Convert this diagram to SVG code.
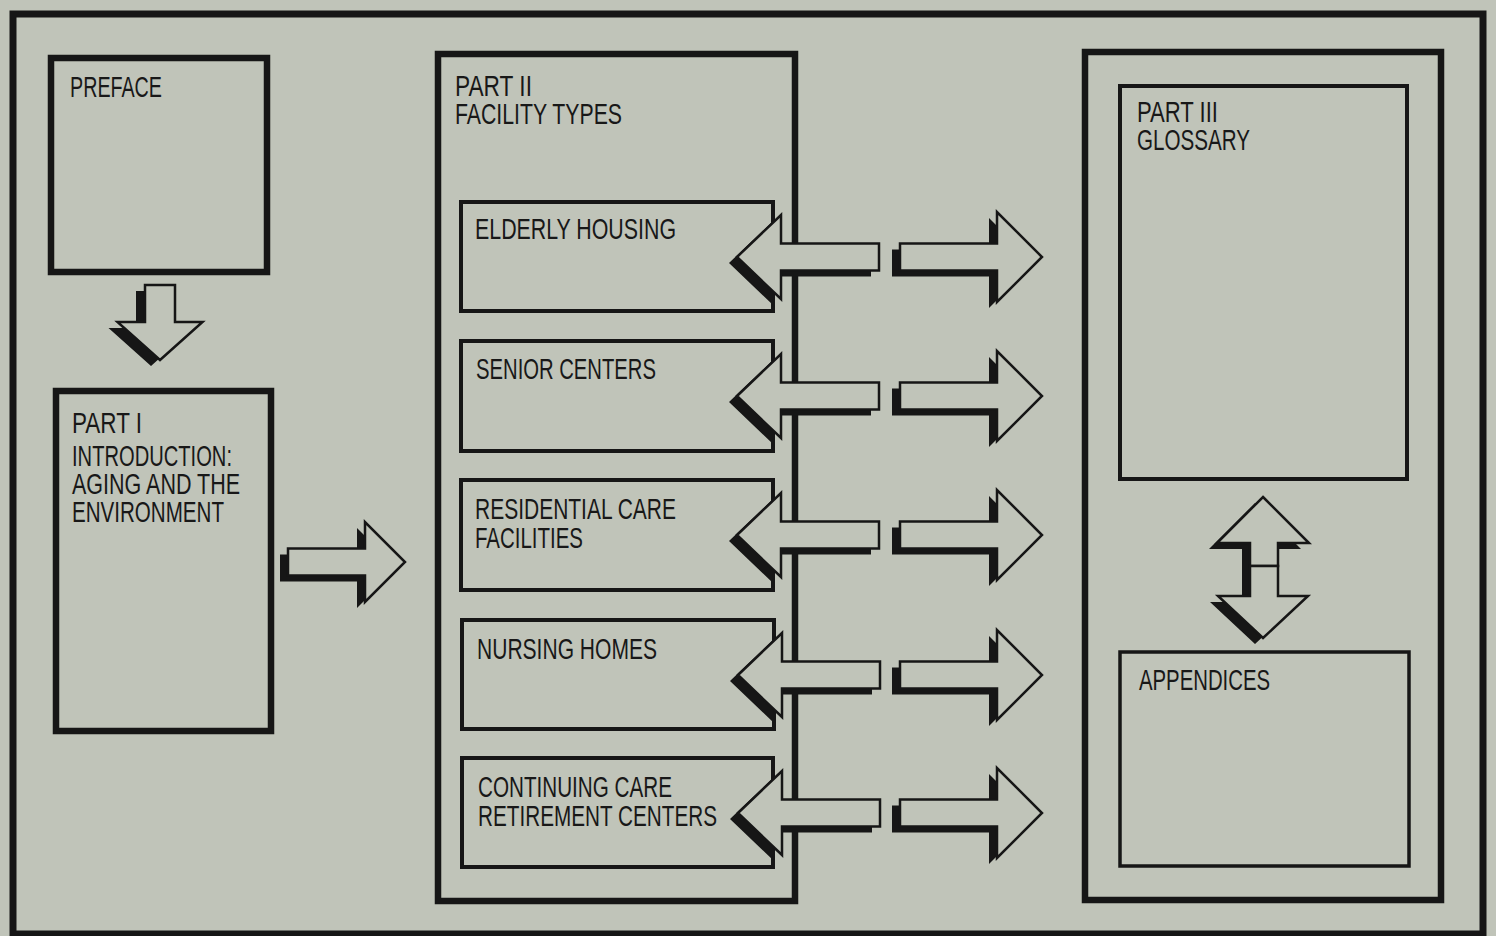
<svg xmlns="http://www.w3.org/2000/svg" xmlns:xlink="http://www.w3.org/1999/xlink" width="1496" height="936" viewBox="0 0 1496 936">
<style>
.bg{fill:#c0c4b9}
.frame{fill:none;stroke:#161616;stroke-width:7}
.box{fill:none;stroke:#161616;stroke-width:6.5}
.inner{fill:none;stroke:#161616;stroke-width:4}
.t{font-family:"Liberation Sans",Arial,sans-serif;font-size:30px;fill:#181818}
.arr{fill:#c0c4b9;stroke:#161616;stroke-width:2.5;stroke-linejoin:miter}
.sh{fill:#161616}
</style>
<defs>
<polygon id="lshape" points="0,0 44,-42 44,-13.5 142,-13.5 142,13.5 44,13.5 44,42"/>
<polygon id="rshape" points="0,-13.5 97,-13.5 97,-45 142,0 97,45 97,13.5 0,13.5"/>
<g id="larrow">
<use xlink:href="#lshape" class="sh" transform="translate(-8,6)"/>
<use xlink:href="#lshape" class="arr"/>
</g>
<g id="rarrow">
<use xlink:href="#rshape" class="sh" transform="translate(-8,6)"/>
<use xlink:href="#rshape" class="arr"/>
</g>
</defs>
<rect class="bg" x="0" y="0" width="1496" height="936"/>
<rect class="frame" x="13" y="14" width="1470" height="920"/>

<g id="preface">
<rect class="box" x="51" y="58" width="216" height="214"/>
<text class="t" x="70" y="97" textLength="92" lengthAdjust="spacingAndGlyphs">PREFACE</text>
</g>

<g id="part1">
<rect class="box" x="56" y="391" width="215" height="340"/>
<text class="t" x="72" y="433" textLength="70" lengthAdjust="spacingAndGlyphs">PART I</text>
<text class="t" x="72" y="466" textLength="160" lengthAdjust="spacingAndGlyphs">INTRODUCTION:</text>
<text class="t" x="72" y="494" textLength="168" lengthAdjust="spacingAndGlyphs">AGING AND THE</text>
<text class="t" x="72" y="522" textLength="152" lengthAdjust="spacingAndGlyphs">ENVIRONMENT</text>
</g>

<g id="part2">
<rect class="box" x="438" y="54" width="357" height="847"/>
<text class="t" x="455" y="96" textLength="77" lengthAdjust="spacingAndGlyphs">PART II</text>
<text class="t" x="455" y="124" textLength="167" lengthAdjust="spacingAndGlyphs">FACILITY TYPES</text>
</g>

<g id="elderly">
<rect class="inner" x="461" y="202" width="312" height="109"/>
<text class="t" x="475" y="239" textLength="201" lengthAdjust="spacingAndGlyphs">ELDERLY HOUSING</text>
</g>
<g id="senior">
<rect class="inner" x="461" y="341" width="312" height="110"/>
<text class="t" x="476" y="379" textLength="180" lengthAdjust="spacingAndGlyphs">SENIOR CENTERS</text>
</g>
<g id="residential">
<rect class="inner" x="461" y="480" width="312" height="110"/>
<text class="t" x="475" y="519" textLength="201" lengthAdjust="spacingAndGlyphs">RESIDENTIAL CARE</text>
<text class="t" x="475" y="548" textLength="108" lengthAdjust="spacingAndGlyphs">FACILITIES</text>
</g>
<g id="nursing">
<rect class="inner" x="462" y="620" width="312" height="109"/>
<text class="t" x="477" y="659" textLength="180" lengthAdjust="spacingAndGlyphs">NURSING HOMES</text>
</g>
<g id="ccrc">
<rect class="inner" x="462" y="758" width="311" height="109"/>
<text class="t" x="478" y="797" textLength="194" lengthAdjust="spacingAndGlyphs">CONTINUING CARE</text>
<text class="t" x="478" y="826" textLength="239" lengthAdjust="spacingAndGlyphs">RETIREMENT CENTERS</text>
</g>

<g id="part3">
<rect class="box" x="1085" y="52" width="356" height="848"/>
</g>
<g id="glossary">
<rect class="inner" x="1120" y="86" width="287" height="393"/>
<text class="t" x="1137" y="122" textLength="81" lengthAdjust="spacingAndGlyphs">PART III</text>
<text class="t" x="1137" y="150" textLength="113" lengthAdjust="spacingAndGlyphs">GLOSSARY</text>
</g>
<g id="appendices">
<rect class="inner" x="1120" y="652" width="289" height="214" style="stroke-width:3.5"/>
<text class="t" x="1139" y="690" textLength="131" lengthAdjust="spacingAndGlyphs">APPENDICES</text>
</g>

<g id="connectors">
<g id="down1">
<polygon class="sh" points="151,366 108.5,328 136,328 136,291 166,291 166,328 193.5,328"/>
<polygon class="arr" points="160,360 117.5,322 145,322 145,285 175,285 175,322 202.5,322"/>
</g>
<g id="right1">
<polygon class="sh" points="280,554.5 357,554.5 357,528 397,568 357,608 357,581.5 280,581.5"/>
<polygon class="arr" points="288,548.5 365,548.5 365,522 405,562 365,602 365,575.5 288,575.5"/>
</g>
<use xlink:href="#larrow" x="737" y="257"/>
<use xlink:href="#rarrow" x="900" y="257"/>
<use xlink:href="#larrow" x="737" y="396"/>
<use xlink:href="#rarrow" x="900" y="396"/>
<use xlink:href="#larrow" x="737" y="535"/>
<use xlink:href="#rarrow" x="900" y="535"/>
<use xlink:href="#larrow" x="738" y="675"/>
<use xlink:href="#rarrow" x="900" y="675"/>
<use xlink:href="#larrow" x="738" y="813"/>
<use xlink:href="#rarrow" x="900" y="813"/>
<g id="updown">
<polygon class="sh" points="1255,503 1301,549 1270,549 1270,572 1242,572 1242,549 1209,549"/>
<polygon class="arr" points="1263,497 1309,543 1278,543 1278,566 1250,566 1250,543 1217,543"/>
<polygon class="sh" points="1255,644 1300,602 1270,602 1270,572 1242,572 1242,602 1210,602"/>
<polygon class="arr" points="1263,638 1308,596 1278,596 1278,566 1250,566 1250,596 1218,596"/>
</g>
</g>
</svg>
